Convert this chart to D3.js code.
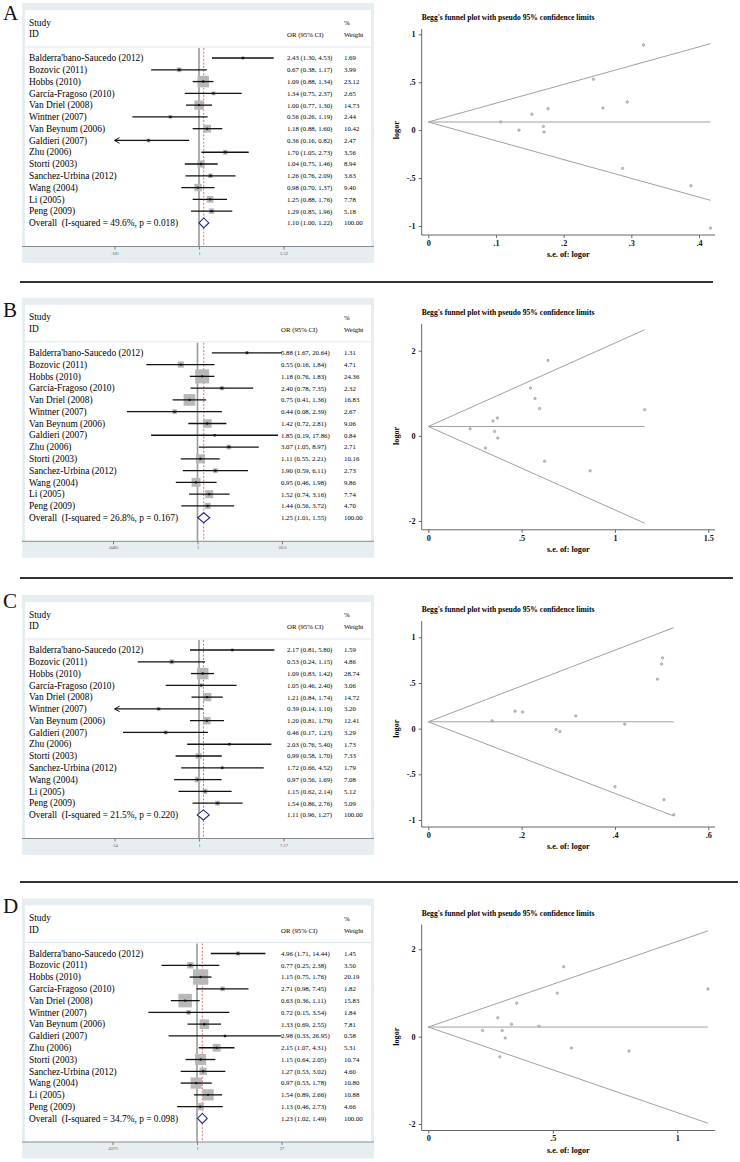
<!DOCTYPE html>
<html><head><meta charset="utf-8">
<script src="https://cdn.jsdelivr.net/npm/d3@7/dist/d3.min.js"></script>
<style>
body{margin:0;background:#fff}
svg{display:block}
text{font-family:"Liberation Serif","Times New Roman",serif}
</style>
</head><body>
<svg id="c" width="740" height="1162"></svg>
<script>
// ---------------- DATA ----------------
const studies = ["Balderra'bano-Saucedo (2012)","Bozovic (2011)","Hobbs (2010)","García-Fragoso (2010)","Van Driel (2008)","Wintner (2007)","Van Beynum (2006)","Galdieri (2007)","Zhu (2006)","Storti (2003)","Sanchez-Urbina (2012)","Wang (2004)","Li (2005)","Peng (2009)"];
const panelLabels = ["A","B","C","D"];

const orA = [2.43,0.67,1.09,1.34,1.00,0.56,1.18,0.36,1.70,1.04,1.26,0.98,1.25,1.29];
const loA = [1.30,0.38,0.88,0.75,0.77,0.26,0.88,0.16,1.05,0.75,0.76,0.70,0.88,0.85];
const hiA = [4.53,1.17,1.34,2.37,1.30,1.19,1.60,0.82,2.73,1.46,2.09,1.37,1.76,1.96];
const wA  = [1.69,3.99,23.12,2.65,14.73,2.44,10.42,2.47,3.56,8.94,3.63,9.40,7.78,5.18];
const overallA = [1.10,1.00,1.22];
const hetA = "I-squared = 49.6%, p = 0.018";
const axisMaxA = 5.52;
const axisLabelsA = [".181","1","5.52"];

const orB = [5.88,0.55,1.18,2.40,0.75,0.44,1.42,1.85,3.07,1.11,1.90,0.95,1.52,1.44];
const loB = [1.67,0.16,0.76,0.78,0.41,0.08,0.72,0.19,1.05,0.55,0.59,0.46,0.74,0.56];
const hiB = [20.64,1.84,1.83,7.35,1.36,2.39,2.81,17.86,8.97,2.21,6.11,1.98,3.16,3.72];
const wB  = [1.31,4.71,24.36,2.32,16.83,2.67,9.06,0.84,2.71,10.16,2.73,9.86,7.74,4.70];
const overallB = [1.25,1.01,1.55];
const hetB = "I-squared = 26.8%, p = 0.167";
const axisMaxB = 20.6;
const axisLabelsB = [".0485","1","20.6"];

const orC = [2.17,0.53,1.09,1.05,1.21,0.39,1.20,0.46,2.03,0.99,1.72,0.97,1.15,1.54];
const loC = [0.81,0.24,0.83,0.46,0.84,0.14,0.81,0.17,0.76,0.58,0.66,0.56,0.62,0.86];
const hiC = [5.80,1.15,1.42,2.40,1.74,1.10,1.79,1.23,5.40,1.70,4.52,1.69,2.14,2.76];
const wC  = [1.59,4.86,28.74,3.06,14.72,3.20,12.41,3.29,1.73,7.33,1.79,7.08,5.12,5.09];
const overallC = [1.11,0.96,1.27];
const hetC = "I-squared = 21.5%, p = 0.220";
const axisMaxC = 7.17;
const axisLabelsC = [".14","1","7.17"];

const orD = [4.96,0.77,1.15,2.71,0.63,0.72,1.33,2.98,2.15,1.15,1.27,0.97,1.54,1.13];
const loD = [1.71,0.25,0.75,0.98,0.36,0.15,0.69,0.33,1.07,0.64,0.53,0.53,0.89,0.46];
const hiD = [14.44,2.38,1.76,7.45,1.11,3.54,2.55,26.95,4.31,2.05,3.02,1.78,2.66,2.73];
const wD  = [1.45,3.50,20.19,1.82,15.83,1.84,7.81,0.58,5.31,10.74,4.60,10.80,10.88,4.66];
const overallD = [1.23,1.02,1.49];
const hetD = "I-squared = 34.7%, p = 0.098";
const axisMaxD = 27;
const axisLabelsD = [".0371","1","27"];

// Begg's funnel points (s.e. of logor, logor)
const seA  = [0.318,0.287,0.107,0.294,0.134,0.388,0.153,0.417,0.244,0.170,0.258,0.171,0.177];
const lorA = [0.888,-0.400,0.086,0.293,0.000,-0.580,0.166,-1.022,0.531,0.039,0.231,-0.020,0.223];
const thetaA = 0.085;
const seB  = [0.641,0.623,0.224,0.572,0.306,0.867,0.347,1.159,0.547,0.355,0.596,0.372,0.370];
const lorB = [1.772,-0.598,0.166,0.876,-0.288,-0.821,0.351,0.615,1.122,0.104,0.642,-0.051,0.419];
const thetaB = 0.22;
const seC  = [0.502,0.400,0.137,0.421,0.186,0.526,0.202,0.505,0.500,0.274,0.491,0.282,0.316];
const lorC = [0.775,-0.635,0.086,0.049,0.191,-0.942,0.182,-0.777,0.708,-0.010,0.542,-0.031,0.140];
const thetaC = 0.075;
const seD  = [0.544,0.575,0.218,0.518,0.287,0.806,0.334,1.123,0.355,0.297,0.444,0.309,0.279];
const lorD = [1.601,-0.261,0.140,0.997,-0.462,-0.329,0.285,1.092,0.766,0.140,0.239,-0.031,0.432];
const thetaD = 0.22;

const fxTicksA = [0,0.1,0.2,0.3,0.4], fxLabelsA = ["0",".1",".2",".3",".4"];
const fyTicksA = [-1,-0.5,0,0.5,1],   fyLabelsA = ["-1","-.5","0",".5","1"];
const fxTicksB = [0,0.5,1,1.5],       fxLabelsB = ["0",".5","1","1.5"];
const fyTicksB = [-2,0,2],            fyLabelsB = ["-2","0","2"];
const fxTicksC = [0,0.2,0.4,0.6],     fxLabelsC = ["0",".2",".4",".6"];
const fyTicksC = [-1,-0.5,0,0.5,1],   fyLabelsC = ["-1","-.5","0",".5","1"];
const fxTicksD = [0,0.5,1],           fxLabelsD = ["0",".5","1"];
const fyTicksD = [-2,0,2],            fyLabelsD = ["-2","0","2"];

const funnelTitle = "Begg's funnel plot with pseudo 95% confidence limits";

// ---------------- LAYOUT ----------------
const panels = [
  {or:orA,lo:loA,hi:hiA,w:wA,ov:overallA,het:hetA,M:axisMaxA,al:axisLabelsA,se:seA,lor:lorA,th:thetaA,fxt:fxTicksA,fxl:fxLabelsA,fyt:fyTicksA,fyl:fyLabelsA},
  {or:orB,lo:loB,hi:hiB,w:wB,ov:overallB,het:hetB,M:axisMaxB,al:axisLabelsB,se:seB,lor:lorB,th:thetaB,fxt:fxTicksB,fxl:fxLabelsB,fyt:fyTicksB,fyl:fyLabelsB},
  {or:orC,lo:loC,hi:hiC,w:wC,ov:overallC,het:hetC,M:axisMaxC,al:axisLabelsC,se:seC,lor:lorC,th:thetaC,fxt:fxTicksC,fxl:fxLabelsC,fyt:fyTicksC,fyl:fyLabelsC},
  {or:orD,lo:loD,hi:hiD,w:wD,ov:overallD,het:hetD,M:axisMaxD,al:axisLabelsD,se:seD,lor:lorD,th:thetaD,fxt:fxTicksD,fxl:fxLabelsD,fyt:fyTicksD,fyl:fyLabelsD}
];
const dy = [0,294.8,592,895.5];
const nullX = [199,197.5,199,197];
const halfW = 84.5;
const boxK = [2.4,2.85,2.15,3.4];
const orColX = [287,281,287,281];
const fyPix = [[226,34.3],[226.2,55.9],[228,45.3],[228.5,53.8]];
const fxPix = [699,708.3,708.3,677.3];
const letterY = [20,317,608,913];
const sepY = [282,578,882];
const sepX2 = [713,733,738];

const svg = d3.select("#c");
svg.append("rect").attr("width",740).attr("height",1162).attr("fill","#fff");

const rowH = 11.78, row0 = 58, axisY = 246.5;

panels.forEach((P,p)=>{
  const g = svg.append("g").attr("transform",`translate(0,${dy[p]})`);
  // ---- forest plot ----
  g.append("rect").attr("x",22).attr("y",3).attr("width",352).attr("height",260).attr("fill","#e7eef2");
  g.append("rect").attr("x",25).attr("y",10).attr("width",346).attr("height",axisY-10).attr("fill","#fff");
  g.append("line").attr("x1",25).attr("x2",371).attr("y1",47).attr("y2",47).attr("stroke","#dde6eb").attr("stroke-width",1);

  const x = d3.scaleLog().domain([1/P.M,P.M]).range([nullX[p]-halfW,nullX[p]+halfW]);

  g.append("text").attr("x",29).attr("y",25.5).attr("font-size",9.4).attr("fill","#000").text("Study");
  g.append("text").attr("x",29).attr("y",37).attr("font-size",9.4).attr("fill","#000").text("ID");
  g.append("text").attr("x",orColX[p]).attr("y",37).attr("font-size",6.8).text("OR (95% CI)");
  g.append("text").attr("x",344).attr("y",25).attr("font-size",6.8).text("%");
  g.append("text").attr("x",344).attr("y",37).attr("font-size",6.8).text("Weight");

  // null line and overall line
  g.append("line").attr("x1",x(1)).attr("x2",x(1)).attr("y1",48).attr("y2",axisY).attr("stroke","#9a9a9a").attr("stroke-width",1.6);
  g.append("line").attr("x1",x(P.ov[0])).attr("x2",x(P.ov[0])).attr("y1",48).attr("y2",axisY).attr("stroke","#d24a4a").attr("stroke-width",0.8).attr("stroke-dasharray","2,1.6");

  const [dmin,dmax] = x.domain();
  studies.forEach((s,i)=>{
    const yc = row0 + i*rowH;
    g.append("text").attr("x",29).attr("y",yc+3.2).attr("font-size",9.4).attr("fill","#000").text(s);
    const side = boxK[p]*Math.sqrt(P.w[i]);
    g.append("rect").attr("x",x(P.or[i])-side/2).attr("y",yc-side/2).attr("width",side).attr("height",side).attr("fill","#b8b8b8");
    const leftArrow = P.lo[i] < dmin*1.005, rightArrow = P.hi[i] > dmax*1.005;
    const x1 = x(Math.max(P.lo[i],dmin)), x2 = x(Math.min(P.hi[i],dmax));
    g.append("line").attr("x1",x1).attr("x2",x2).attr("y1",yc).attr("y2",yc).attr("stroke","#111").attr("stroke-width",1.3);
    if(leftArrow) g.append("path").attr("d",`M${x1+5},${yc-2.8}L${x1},${yc}L${x1+5},${yc+2.8}`).attr("fill","none").attr("stroke","#111").attr("stroke-width",1);
    if(rightArrow) g.append("path").attr("d",`M${x2-5},${yc-2.8}L${x2},${yc}L${x2-5},${yc+2.8}`).attr("fill","none").attr("stroke","#111").attr("stroke-width",1);
    g.append("circle").attr("cx",x(P.or[i])).attr("cy",yc).attr("r",1.2).attr("fill","#111");
    g.append("text").attr("x",orColX[p]).attr("y",yc+2.4).attr("font-size",6.8)
      .text(`${P.or[i].toFixed(2)} (${P.lo[i].toFixed(2)}, ${P.hi[i].toFixed(2)})`);
    g.append("text").attr("x",344).attr("y",yc+2.4).attr("font-size",6.8).text(P.w[i].toFixed(2));
  });
  // overall row
  const yo = row0 + 14*rowH;
  g.append("text").attr("x",29).attr("y",yo+3.2).attr("font-size",9.4).attr("fill","#000").style("white-space","pre").text(`Overall  (${P.het})`);
  g.append("path").attr("d",`M${x(P.ov[1])},${yo}L${x(P.ov[0])},${yo-5}L${x(P.ov[2])},${yo}L${x(P.ov[0])},${yo+5}Z`)
    .attr("fill","#fff").attr("stroke","#22288a").attr("stroke-width",1.1);
  g.append("text").attr("x",orColX[p]).attr("y",yo+2.4).attr("font-size",6.8)
    .text(`${P.ov[0].toFixed(2)} (${P.ov[1].toFixed(2)}, ${P.ov[2].toFixed(2)})`);
  g.append("text").attr("x",344).attr("y",yo+2.4).attr("font-size",6.8).text("100.00");

  // forest axis
  g.append("line").attr("x1",22).attr("x2",374).attr("y1",axisY).attr("y2",axisY).attr("stroke","#8a8a8a").attr("stroke-width",1);
  const ax = d3.axisBottom(x).tickValues([1/P.M,1,P.M]).tickFormat((d,i)=>P.al[i]).tickSize(3).tickSizeOuter(0);
  const axg = g.append("g").attr("transform",`translate(0,${axisY})`).call(ax);
  axg.select(".domain").remove();
  axg.selectAll("line").attr("stroke","#777");
  axg.selectAll("text").attr("font-size",4.5).attr("fill","#555").attr("dy","0.9em").attr("y",4)
    .attr("font-family","Liberation Serif, serif");

  // ---- funnel plot ----
  const fx = d3.scaleLinear().domain([0,P.fxt[P.fxt.length-1]]).range([428.3,fxPix[p]]);
  const fy = d3.scaleLinear().domain([P.fyt[0],P.fyt[P.fyt.length-1]]).range(fyPix[p]);
  g.append("text").attr("x",421.7).attr("y",20).attr("font-size",7.6).attr("font-weight","bold").text(funnelTitle);
  g.append("line").attr("x1",421.7).attr("x2",421.7).attr("y1",29).attr("y2",235).attr("stroke","#666");
  g.append("line").attr("x1",421.7).attr("x2",715).attr("y1",235).attr("y2",235).attr("stroke","#666");
  const yax = d3.axisLeft(fy).tickValues(P.fyt).tickFormat((d,i)=>P.fyl[i]).tickSize(3).tickPadding(3);
  const yg = g.append("g").attr("transform","translate(421.7,0)").call(yax);
  yg.select(".domain").remove();
  yg.selectAll("line").attr("stroke","#666");
  yg.selectAll("text").attr("font-size",8.2).attr("font-weight","bold").attr("fill","#111").attr("font-family","Liberation Serif, serif");
  const xax = d3.axisBottom(fx).tickValues(P.fxt).tickFormat((d,i)=>P.fxl[i]).tickSize(3).tickPadding(2);
  const xg = g.append("g").attr("transform","translate(0,235)").call(xax);
  xg.select(".domain").remove();
  xg.selectAll("line").attr("stroke","#666");
  xg.selectAll("text").attr("font-size",8.2).attr("font-weight","bold").attr("fill","#111").attr("font-family","Liberation Serif, serif");
  const ym = (fyPix[p][0]+fyPix[p][1])/2;
  g.append("text").attr("transform",`translate(398.5,${ym}) rotate(-90)`).attr("text-anchor","middle")
    .attr("font-size",8.2).attr("font-weight","bold").text("logor");
  g.append("text").attr("x",568.3).attr("y",257).attr("text-anchor","middle")
    .attr("font-size",8.2).attr("font-weight","bold").text("s.e. of: logor");

  const smax = d3.max(P.se);
  const lines = [[P.th, P.th], [P.th, P.th+1.96*smax], [P.th, P.th-1.96*smax]];
  lines.forEach(l=>{
    g.append("line").attr("x1",fx(0)).attr("x2",fx(smax)).attr("y1",fy(l[0])).attr("y2",fy(l[1]))
      .attr("stroke","#a0a0a0").attr("stroke-width",1);
  });
  P.se.forEach((s,i)=>{
    g.append("circle").attr("cx",fx(s)).attr("cy",fy(P.lor[i])).attr("r",1.2)
      .attr("fill","#c8c8c8").attr("stroke","#9a9a9a").attr("stroke-width",0.7);
  });

  // panel letter
  svg.append("text").attr("x",3).attr("y",letterY[p]).attr("font-size",21).attr("fill","#111").text(panelLabels[p]);
});

sepY.forEach((y,i)=>{
  svg.append("line").attr("x1",20).attr("x2",sepX2[i]).attr("y1",y).attr("y2",y).attr("stroke","#333").attr("stroke-width",2);
});
</script>
</body></html>
